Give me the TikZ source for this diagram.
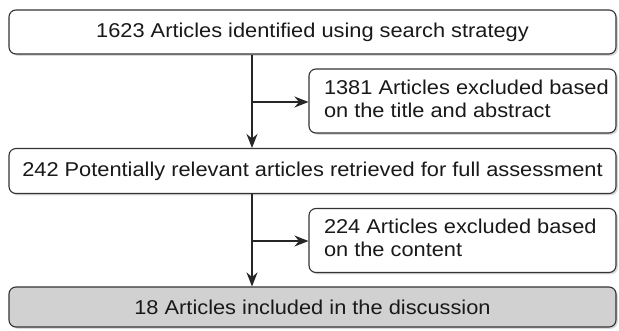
\documentclass[tikz,border=0pt]{standalone}
\usepackage{fontspec}
\setmainfont[FakeStretch=1.09]{Liberation Sans}
\usetikzlibrary{arrows.meta,shadows}
\newcommand{\sidetext}[1]{\makebox[277pt][l]{\begin{tabular}{@{}l@{}}#1\end{tabular}}}
\begin{document}
\begin{tikzpicture}[x=1pt,y=-1pt,
  box/.style={draw=black!80,line width=1.1pt,rounded corners=7pt,fill=white,
    drop shadow={shadow xshift=1.8pt,shadow yshift=-1.8pt,opacity=0.3},
    inner sep=0pt,font=\fontsize{20}{23}\selectfont,text=black!90},
  sidebox/.style={box,minimum width=307pt,minimum height=64pt},
  conn/.style={draw=black!85,line width=2pt,-{Stealth[length=14pt,width=11pt]}}]
\useasboundingbox (0,0) rectangle (619,330);
\node[box,minimum width=607pt,minimum height=44pt] (a) at (312.5,32) {1623 Articles identified using search strategy};
\node[sidebox] (b) at (462.5,101) {\sidetext{1381 Articles excluded based\\on the title and abstract}};
\node[box,minimum width=607pt,minimum height=45pt] (c) at (312.5,171) {242 Potentially relevant articles retrieved for full assessment};
\node[sidebox] (d) at (462.5,240.5) {\sidetext{224 Articles excluded based\\on the content}};
\node[box,fill=black!18,minimum width=607pt,minimum height=40pt] (e) at (312.5,307) {18 Articles included in the discussion};
\coordinate (j1) at (252,102);
\coordinate (j2) at (252,241);
\draw[conn] (a.south -| j1) -- (c.north -| j1);
\draw[conn] (j1) -- (b.west |- j1);
\draw[conn] (c.south -| j2) -- (e.north -| j2);
\draw[conn] (j2) -- (d.west |- j2);
\end{tikzpicture}
\end{document}
